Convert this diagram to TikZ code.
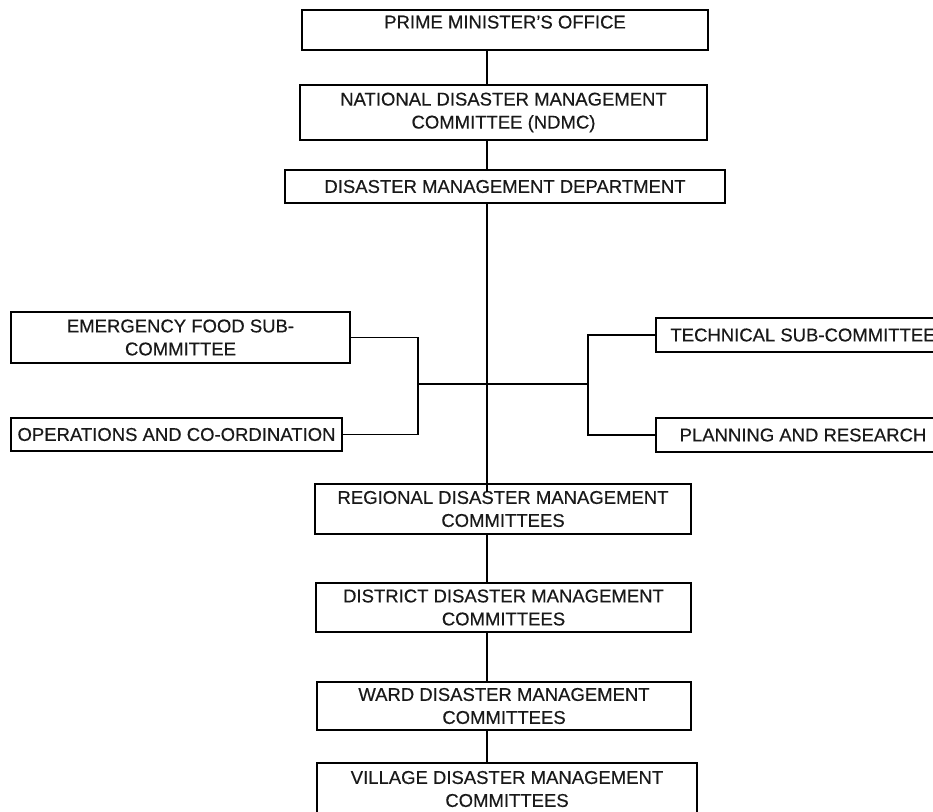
\documentclass[tikz,border=0pt]{standalone}
\usepackage{fontspec}
\setmainfont{Liberation Sans}[FakeBold=0.4]
\usetikzlibrary{calc}
\begin{document}
\begin{tikzpicture}[x=1pt,y=-1pt,
  box/.style={draw, line width=1.3pt, rectangle, inner sep=0pt, align=center,
    font=\fontsize{18.5}{23}\selectfont, text=black!90},
  link/.style={line width=1.3pt}]
\useasboundingbox (0,0) rectangle (933,811);
\clip (0,0) rectangle (933,811);

% national level
\node[box, minimum width=406pt, minimum height=40pt, text depth=16pt] (pm) at (505,30) {PRIME MINISTER'S OFFICE};
\node[box, minimum width=407pt, minimum height=55pt] (ndmc) at (503.5,112.5) {NATIONAL DISASTER MANAGEMENT\\COMMITTEE (NDMC)};
\node[box, minimum width=440pt, minimum height=33pt] (dmd) at (505,186.5) {DISASTER MANAGEMENT DEPARTMENT};

% sub-committees
\node[box, minimum width=339pt, minimum height=51pt] (food) at (180.5,337.5) {EMERGENCY FOOD SUB-\\COMMITTEE};
\node[box, minimum width=331pt, minimum height=33pt] (ops) at (176.5,434.5) {OPERATIONS AND CO-ORDINATION};
\node[box, minimum width=294pt, minimum height=34pt] (tech) at (803,335) {TECHNICAL SUB-COMMITTEE};
\node[box, minimum width=294pt, minimum height=34pt] (plan) at (803,435) {PLANNING AND RESEARCH};

% local levels
\node[box, minimum width=376pt, minimum height=50pt] (reg) at (503,509) {REGIONAL DISASTER MANAGEMENT\\COMMITTEES};
\node[box, minimum width=375pt, minimum height=49pt] (dist) at (503.5,607.5) {DISTRICT DISASTER MANAGEMENT\\COMMITTEES};
\node[box, minimum width=374pt, minimum height=48pt] (ward) at (504,706) {WARD DISASTER MANAGEMENT\\COMMITTEES};
\node[box, minimum width=380pt, minimum height=52pt] (vill) at (507,789) {VILLAGE DISASTER MANAGEMENT\\COMMITTEES};

% main spine
\coordinate (spine) at (487,0);
\draw[link] (pm.south -| spine) -- (ndmc.north -| spine);
\draw[link] (ndmc.south -| spine) -- (dmd.north -| spine);
\draw[link] (dmd.south -| spine) -- ($(reg.north -| spine)+(0,9)$);
\draw[link] (reg.south -| spine) -- (dist.north -| spine);
\draw[link] (dist.south -| spine) -- (ward.north -| spine);
\draw[link] (ward.south -| spine) -- (vill.north -| spine);

% side brackets
\coordinate (lj) at (418,384);
\coordinate (rj) at (588,384);
\draw[link] (lj) -- (rj);
\draw[link] (food.east) -- (food.east -| lj) -- (ops.east -| lj) -- (ops.east);
\draw[link] (tech.west) -- (tech.west -| rj) -- (plan.west -| rj) -- (plan.west);
\end{tikzpicture}
\end{document}
